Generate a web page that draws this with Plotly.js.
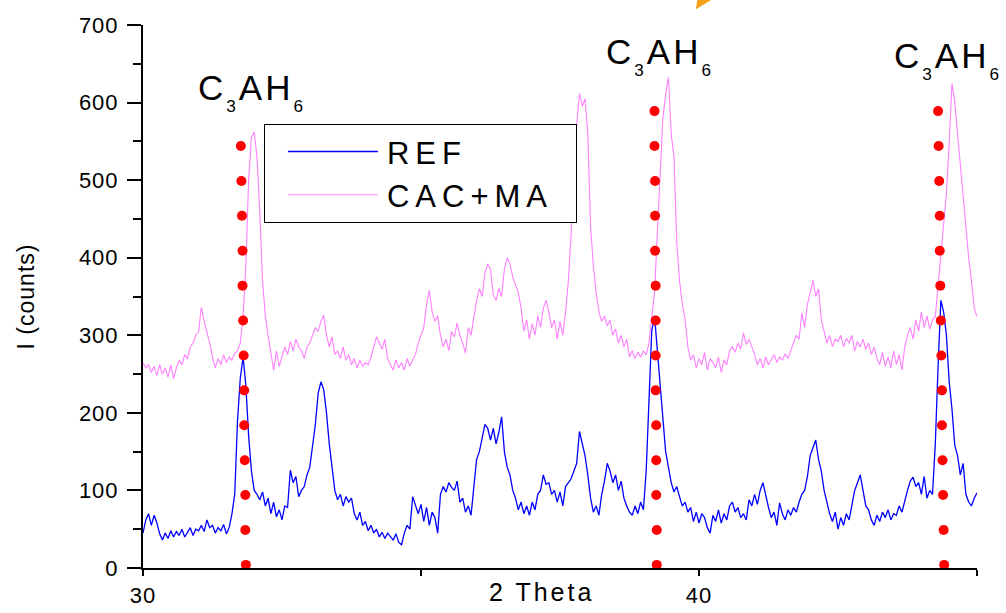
<!DOCTYPE html>
<html>
<head>
<meta charset="utf-8">
<script src="https://cdn.plot.ly/plotly-3.0.1.min.js"></script>
<style>
  html, body { margin: 0; padding: 0; background: #fff; }
  #chart { width: 1006px; height: 613px; }
  .legendtext { letter-spacing: 6px; }
  .ytick text, .xtick text { letter-spacing: 1px; }
  .ytitle { letter-spacing: 1px; }
  .annotation-text { letter-spacing: 3px; }
</style>
</head>
<body>
<div id="chart"></div>
<script>
// 2-theta scan: start angle and step (degrees)
const thetaStart = 30;
const thetaStep = 0.05;

// REF intensities (counts), 30.00 .. 45.00 in 0.05 deg steps
const refCounts = [
  45,62,70,55,68,58,44,36,45,38,48,40,47,42,50,40,46,52,42,50,
  48,55,47,62,52,55,45,52,48,56,44,52,70,95,190,245,272,235,170,125,
  100,95,88,98,80,90,70,85,66,75,62,80,78,126,110,118,92,100,105,120,
  130,155,185,225,240,230,200,160,130,100,88,95,80,92,85,90,70,62,72,55,
  60,48,55,45,50,40,46,38,45,40,36,44,33,30,45,55,50,92,80,70,
  82,60,78,55,72,65,45,95,105,98,110,104,100,112,85,90,72,80,68,100,
  140,150,170,185,180,165,180,160,175,195,150,130,120,100,90,75,85,70,80,68,
  85,75,95,100,120,108,110,95,100,85,98,80,105,110,115,125,135,176,160,145,
  120,90,72,80,68,95,112,135,125,110,120,100,112,90,80,72,68,80,70,85,
  75,125,215,305,325,280,230,195,150,130,110,98,105,92,80,85,72,78,60,72,
  58,70,65,52,45,68,60,75,58,70,62,80,85,72,78,65,70,62,88,80,
  95,82,100,110,92,78,65,72,55,84,70,62,75,68,78,72,85,95,100,118,
  145,155,165,140,125,100,85,70,60,72,50,65,55,70,62,80,100,110,120,100,
  80,75,62,55,68,60,72,65,75,62,70,68,80,72,88,100,112,117,105,110,
  95,118,90,100,95,160,260,345,330,300,240,205,158,145,120,135,95,85,80,90,
  97
];

// CAC+MA intensities (counts), 30.00 .. 45.00 in 0.05 deg steps
const cacmaCounts = [
  265,258,262,252,260,248,262,250,258,246,262,244,258,268,262,275,270,285,290,300,
  305,336,318,305,290,272,258,270,262,275,265,272,268,277,280,290,324,390,500,555,
  562,530,460,370,325,300,275,255,280,260,272,285,275,292,280,295,285,280,270,285,
  290,300,310,305,318,326,300,285,298,275,280,270,285,268,275,262,270,258,268,260,
  265,262,272,285,298,290,282,295,270,262,255,268,258,265,255,270,260,268,275,290,
  300,310,340,358,330,318,325,300,285,295,280,305,298,316,300,290,277,310,300,325,
  345,360,350,380,392,385,352,345,360,350,385,400,392,375,365,355,335,305,320,295,
  315,300,325,310,335,345,330,310,320,295,318,300,330,370,430,510,570,612,595,605,
  560,440,390,355,330,318,325,312,320,300,308,290,300,285,295,272,280,270,278,272,
  280,275,290,324,354,430,500,580,610,633,560,530,420,370,340,320,285,268,275,258,
  270,262,278,255,270,265,258,272,252,268,262,280,285,278,290,282,303,288,295,285,
  275,262,270,258,272,262,268,275,265,272,268,276,270,280,290,300,295,329,310,340,
  355,371,350,360,320,305,290,300,285,295,292,300,285,296,290,300,280,292,285,295,
  282,290,275,285,270,262,278,260,272,258,280,262,275,255,285,300,310,295,320,305,
  330,310,325,308,320,324,362,397,440,483,548,625,600,560,510,470,430,400,370,335,
  324
];

// C3AH6 reflection markers (dotted red lines), listed bottom to top
const markerLevels = [4,49,94,139,184,229,274,319,364,409,454,499,544,589];
const c3ah6DotsX1 = [31.85,31.84,31.84,31.83,31.82,31.82,31.81,31.80,31.79,31.79,31.78,31.77,31.76];
const c3ah6DotsX2 = [39.24,39.24,39.23,39.23,39.23,39.22,39.22,39.22,39.22,39.21,39.21,39.21,39.20,39.20];
const c3ah6DotsX3 = [44.41,44.40,44.39,44.38,44.37,44.37,44.36,44.35,44.34,44.33,44.33,44.32,44.31,44.30];

// Phase labels
const phaseLabel = 'C<sub><sub>3</sub></sub>AH<sub><sub>6</sub></sub>';
const phaseLabelX = [31.96, 39.29, 44.47];
const phaseLabelY = [614, 660, 655];

// Axis ticks
const xLabelVals = [30, 40];
const xMinorStep = 5;

const dotX = c3ah6DotsX1.concat(c3ah6DotsX2, c3ah6DotsX3);
const dotY = markerLevels.slice(0, c3ah6DotsX1.length)
  .concat(markerLevels.slice(0, c3ah6DotsX2.length), markerLevels.slice(0, c3ah6DotsX3.length));

const FONT = 'Liberation Sans, Arial, Helvetica, sans-serif';

const traces = [
  {
    type: 'scatter', mode: 'lines', name: 'REF',
    x0: thetaStart, dx: thetaStep, y: refCounts,
    line: { color: '#0000ff', width: 1.3 }
  },
  {
    type: 'scatter', mode: 'lines', name: 'CAC+MA',
    x0: thetaStart, dx: thetaStep, y: cacmaCounts,
    line: { color: '#ff80ff', width: 1.1 }
  },
  {
    type: 'scatter', mode: 'markers', name: 'C3AH6', showlegend: false,
    x: dotX, y: dotY, cliponaxis: false,
    marker: { color: '#ff0000', size: 10, line: { width: 0 } }
  }
];

const annotations = phaseLabelX.map((x, i) => ({
  x: x, y: phaseLabelY[i], xref: 'x', yref: 'y',
  text: phaseLabel, showarrow: false,
  xanchor: 'center', yanchor: 'middle',
  font: { family: FONT, size: 35, color: '#000' }
}));
annotations.push({
  x: 0.478, y: -0.044, xref: 'paper', yref: 'paper',
  text: '2 Theta', showarrow: false, xanchor: 'center', yanchor: 'middle',
  font: { family: FONT, size: 25, color: '#000' }
});

const layout = {
  width: 1006, height: 613,
  margin: { l: 143, r: 29, t: 25, b: 45, pad: 0 },
  paper_bgcolor: '#ffffff', plot_bgcolor: '#ffffff',
  font: { family: FONT, color: '#000' },
  showlegend: true,
  xaxis: {
    range: [30, 45], tickmode: 'array', tickvals: xLabelVals,
    ticks: 'outside', ticklen: 6, tickwidth: 2, tickcolor: '#000',
    minor: { tick0: 30, dtick: xMinorStep, ticks: 'outside', ticklen: 6, tickwidth: 2, tickcolor: '#000', showgrid: false },
    showline: true, linewidth: 2, linecolor: '#000',
    showgrid: false, zeroline: false,
    tickfont: { family: FONT, size: 22, color: '#000' },
    ticklabelstandoff: 1
  },
  yaxis: {
    range: [0, 700], tick0: 0, dtick: 100,
    ticks: 'outside', ticklen: 14, tickwidth: 2, tickcolor: '#000',
    minor: { dtick: 50, ticks: 'outside', ticklen: 8, tickwidth: 2, tickcolor: '#000', showgrid: false },
    showline: true, linewidth: 2, linecolor: '#000',
    showgrid: false, zeroline: false,
    tickfont: { family: FONT, size: 22, color: '#000' },
    ticklabelstandoff: 4,
    title: { text: 'I (counts)', font: { family: FONT, size: 23, color: '#000' }, standoff: 38 }
  },
  legend: {
    x: 0.145, y: 0.818, xanchor: 'left', yanchor: 'top',
    bordercolor: '#000', borderwidth: 1, bgcolor: '#ffffff',
    font: { family: FONT, size: 31, color: '#000' },
    itemwidth: 112, tracegroupgap: 0
  },
  annotations: annotations,
  shapes: [{
    type: 'path', xref: 'paper', yref: 'paper',
    path: 'M0.663,1.029 L0.6645,1.046 L0.6815,1.046 Z',
    fillcolor: '#f7a11a', line: { width: 0 }
  }]
};

Plotly.newPlot('chart', traces, layout, { displayModeBar: false, staticPlot: true }).then(function (gd) {
  // widen the legend frame and place the sample lines as in the original figure
  const bg = gd.querySelector('.legend rect.bg');
  if (bg) bg.setAttribute('width', 312);
  gd.querySelectorAll('.legend .legendlines path').forEach(function (p) {
    p.setAttribute('d', 'M23,0h90');
  });
});
</script>
</body>
</html>
